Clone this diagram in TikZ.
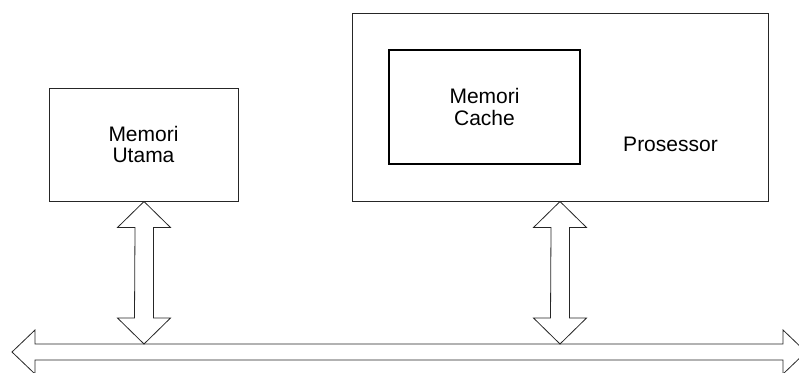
\documentclass[tikz,border=0pt]{standalone}
\usepackage{fontspec}
\setmainfont{Liberation Sans}
\usetikzlibrary{calc}
\begin{document}
\begin{tikzpicture}[x=1pt,y=-1pt,
  box/.style={draw=black!85, line width=0.8pt, inner sep=0pt},
  thickbox/.style={draw=black, line width=2.4pt, inner sep=0pt},
  lbl/.style={font=\fontsize{21}{21.5}\selectfont, align=center, inner sep=0pt},
  fat/.style={draw=black!85, line width=0.8pt, line join=miter}]
\useasboundingbox (0,0) rectangle (799,372);
% boxes
\node[box, minimum width=189pt, minimum height=113pt] (mu) at (143.5,144.5) {};
\node[box, minimum width=416pt, minimum height=188pt] (proc) at (560,107) {};
\node[thickbox, minimum width=191pt, minimum height=114pt] (cache) at (484.5,107) {};
% labels
\node[lbl] (mutxt) at (mu.center) {Memori\\Utama};
\node[lbl] (cachetxt) at (cache.center) {Memori\\Cache};
\node[lbl] (proctxt) at (670.5,144) {Prosessor};
% bus
\coordinate (busL) at (12,352);
\coordinate (busR) at (806,352);
\draw[fat] (busL) -- ++(23,-22) -- ++(0,14) -- ($(busR)+(-23,-8)$) -- ++(0,-14)
  -- (busR) -- ++(-23,22) -- ++(0,-14) -- ($(busL)+(23,8)$) -- ++(0,14) -- cycle;
% vertical double arrows
\coordinate (a1t) at (144,201.5);
\coordinate (a1b) at (144,344);
\coordinate (a2t) at (560,201.5);
\coordinate (a2b) at (560,344);
\foreach \t/\b in {a1t/a1b, a2t/a2b}{
  \draw[fat] (\t) -- ++(26.5,26) -- ++(-17,0) -- ($(\b)+(9.5,-26)$) -- ++(17,0)
    -- (\b) -- ++(-26.5,-26) -- ++(17,0) -- ($(\t)+(-9,26)$) -- ++(-17.5,0) -- cycle;
}
\end{tikzpicture}
\end{document}
